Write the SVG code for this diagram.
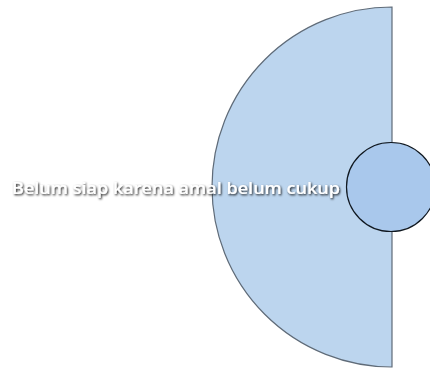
<svg xmlns="http://www.w3.org/2000/svg" width="430" height="368" viewBox="0 0 430 368">
  <defs>
    <filter id="shadow" x="-5%" y="-30%" width="110%" height="160%">
      <feDropShadow dx="1" dy="1.2" stdDeviation="1" flood-color="#000000" flood-opacity="0.9"/>
    </filter>
    <style>
      .half { fill: #bcd5ee; stroke: #5f6b78; stroke-width: 1.2; }
      .knob { fill: #a9c8ec; stroke: #101820; stroke-width: 1.2; }
      .label { font-family: "Open Sans", "Noto Sans", sans-serif; font-size: 17px; font-weight: 600; fill: #ffffff; filter: url(#shadow); }
    </style>
  </defs>
  <g id="half-disc">
    <path class="half" d="M392,7 A180,180 0 0 0 392,367 Z"/>
  </g>
  <g id="circle">
    <circle class="knob" cx="391" cy="187" r="44.5"/>
  </g>
  <g id="label">
    <text class="label" x="340" y="194" text-anchor="end" textLength="328" lengthAdjust="spacingAndGlyphs">Belum siap karena amal belum cukup</text>
  </g>
  <g id="connectors"></g>
</svg>
